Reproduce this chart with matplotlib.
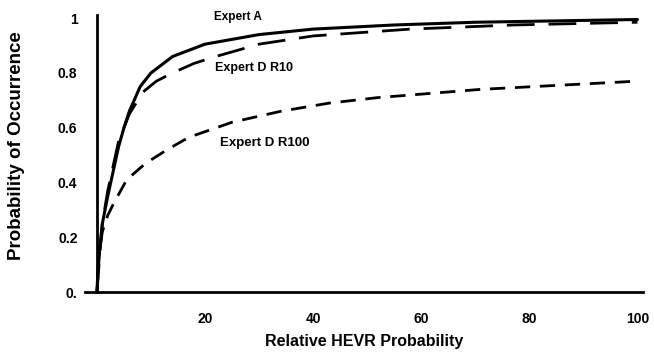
import numpy as np
import matplotlib.pyplot as plt

plt.rcParams['font.family'] = ['Liberation Sans', 'DejaVu Sans']
plt.rcParams['font.weight'] = 'bold'

a_x = [0, 0.3, 1, 2, 3, 4, 5, 6, 8, 10, 14, 20, 30, 40, 55, 70, 100]
a_y = [0, 0.12, 0.25, 0.35, 0.44, 0.53, 0.6, 0.66, 0.75, 0.8, 0.86, 0.905, 0.94, 0.96, 0.975, 0.985, 0.995]

r10_x = [0, 1, 2, 4, 6, 8.5, 11, 14, 18, 22, 30, 40, 58, 77, 100]
r10_y = [0, 0.25, 0.37, 0.55, 0.65, 0.73, 0.77, 0.80, 0.835, 0.86, 0.905, 0.935, 0.96, 0.975, 0.985]

r100_x = [0, 0.5, 1, 2, 3, 5.5, 9, 13, 17, 25, 34, 43, 52, 71, 100]
r100_y = [0, 0.15, 0.22, 0.28, 0.32, 0.41, 0.47, 0.52, 0.565, 0.62, 0.66, 0.69, 0.71, 0.74, 0.77]

x_ticks = [20, 40, 60, 80, 100]
y_ticks = [0, 0.2, 0.4, 0.6, 0.8, 1]
y_ticklabels = ['0.', '0.2', '0.4', '0.6', '0.8', '1']

fig = plt.figure(figsize=(6.54, 3.62), dpi=100)
ax = fig.add_axes([0.130, 0.193, 0.853, 0.766])

ax.plot(a_x, a_y, color='black', lw=2.2, solid_capstyle='round')
ax.plot(r10_x, r10_y, color='black', lw=2.0, dashes=(10, 5))
ax.plot(r100_x, r100_y, color='black', lw=2.0, dashes=(5.5, 3.5))

ax.text(21.7, 1.004, 'Expert A', fontsize=8.5, fontweight='bold', va='center')
ax.text(21.9, 0.817, 'Expert D R10', fontsize=9, fontweight='bold', va='center')
ax.text(22.8, 0.544, 'Expert D R100', fontsize=9.5, fontweight='bold', va='center')

ax.set_xlim(-2.2, 101)
ax.set_ylim(0, 1.012)
ax.spines['left'].set_position(('data', 0))
ax.spines['top'].set_visible(False)
ax.spines['right'].set_visible(False)
ax.spines['left'].set_linewidth(2)
ax.spines['bottom'].set_linewidth(2)

ax.set_xticks(x_ticks)
ax.set_yticks(y_ticks)
ax.set_yticklabels(y_ticklabels)
ax.tick_params(axis='x', length=0, pad=14, labelsize=10)
ax.tick_params(axis='y', length=0, pad=14, labelsize=10)

ax.set_xlabel('Relative HEVR Probability', fontsize=11.5, fontweight='bold', labelpad=6)
ax.set_ylabel('Probability of Occurrence', fontsize=13.5, fontweight='bold')
ax.yaxis.set_label_coords(-0.1075, 0.527)

fig.savefig('out.png', dpi=100)
